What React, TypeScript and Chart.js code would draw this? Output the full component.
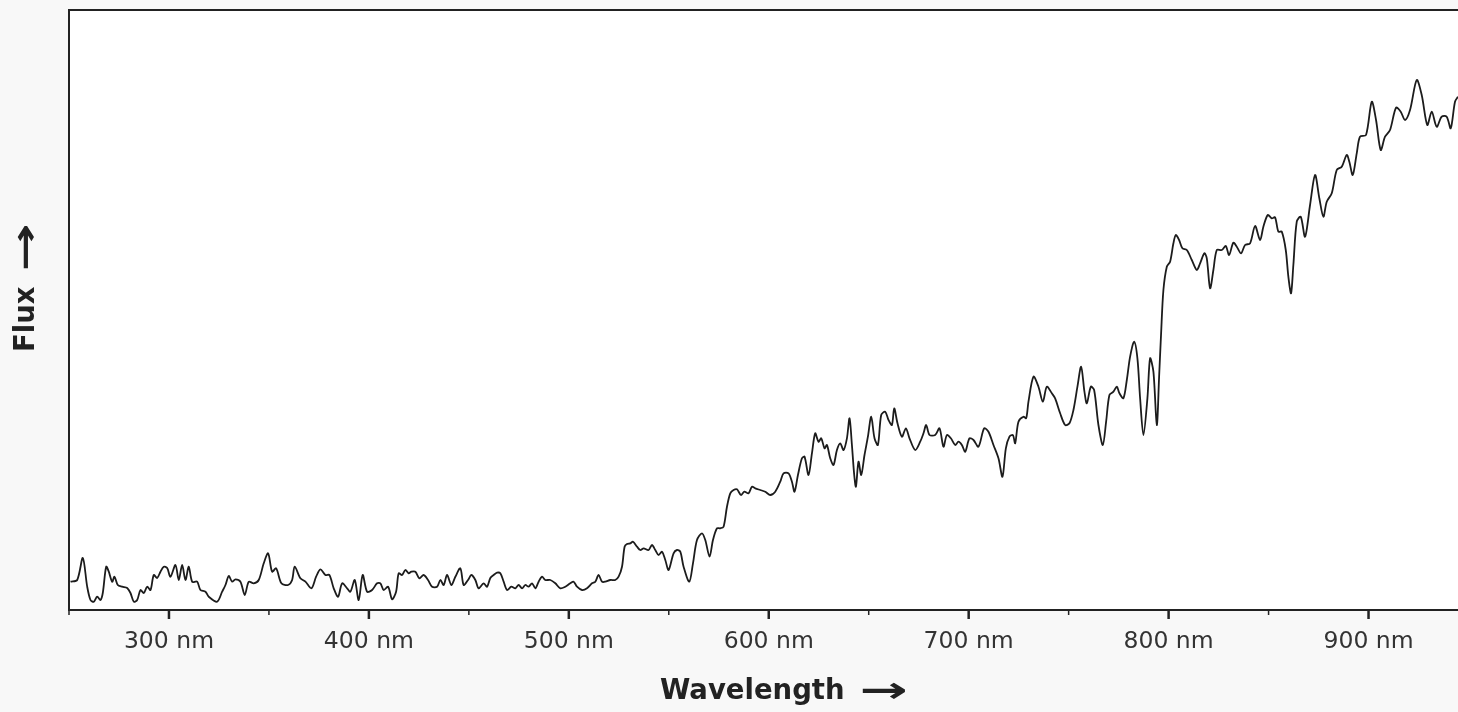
import React, { useEffect, useRef } from "react";
import { Chart, registerables } from "chart.js";

Chart.register(...registerables);

// Wavelength (nm) of each sample along the spectrum
const wavelengthNm: number[] = [
  250.75, 254.1, 256.9, 259.1, 260.75, 262.4, 264.1, 265.75, 266.9, 268.6, 269.9, 271.6, 272.75, 274.4, 276.6, 279.1,
  280.75, 282.4, 284.1, 285.75, 287.4, 289.1, 290.75, 292.4, 294.1, 295.75, 297.4, 299.1, 300.75, 303.25, 304.9, 306.6,
  308.25, 309.9, 311.6, 314.1, 315.75, 318.25, 319.9, 324.1, 326.6, 328.25, 329.9, 331.6, 333.25, 335.75, 337.9, 339.9,
  342.4, 344.9, 347.4, 349.6, 351.6, 353.6, 356.25, 359.6, 361.6, 362.9, 365.75, 368.25, 371.25, 373.6, 375.75, 378.25,
  380.25, 382.4, 384.6, 386.6, 389.1, 390.75, 392.9, 394.9, 396.9, 399.1, 401.6, 404.1, 405.75, 407.4, 409.6, 411.6,
  413.6, 414.9, 416.6, 418.25, 419.9, 421.25, 423.25, 425.25, 427.4, 429.6, 431.6, 434.1, 435.75, 437.4, 439.1, 441.25,
  443.25, 445.75, 447.4, 449.6, 451.25, 453.25, 454.9, 457.4, 459.1, 460.75, 462.4, 464.1, 465.75, 467.4, 469.1, 471.25,
  473.25, 474.9, 476.6, 478.25, 479.9, 481.6, 483.25, 484.9, 486.6, 488.25, 490.75, 493.25, 495.75, 498.25, 500.75, 502.4,
  504.1, 506.6, 509.1, 511.6, 513.25, 514.9, 516.6, 518.25, 520.75, 523.25, 524.9, 526.6, 527.9, 529.1, 530.75, 532.1,
  534.1, 535.75, 537.4, 539.9, 541.6, 543.25, 544.9, 546.6, 548.25, 549.9, 552.4, 554.1, 555.75, 557.4, 560.25, 562.1,
  564.1, 566.6, 568.25, 570.4, 572.1, 574.1, 575.75, 577.4, 579.1, 580.75, 582.4, 584.1, 586.1, 587.75, 589.9, 591.6,
  593.25, 595.75, 598.25, 600.75, 603.25, 605.75, 607.4, 609.9, 611.6, 612.9, 614.6, 616.6, 617.9, 619.9, 621.6, 623.25,
  624.9, 626.25, 627.9, 629.1, 630.75, 632.4, 634.1, 635.75, 637.4, 639.1, 640.4, 641.6, 642.75, 643.6, 644.9, 646.25,
  647.9, 649.6, 651.25, 652.9, 654.6, 656.25, 658.25, 659.9, 661.6, 662.75, 664.4, 666.6, 668.6, 670.4, 673.25, 675.75,
  677.4, 678.75, 680.4, 683.25, 685.4, 687.4, 689.1, 691.1, 693.25, 694.9, 696.6, 698.25, 700.4, 702.4, 704.9, 707.75,
  709.9, 712.4, 714.9, 716.9, 718.6, 720.4, 722.1, 723.25, 724.9, 727.4, 728.75, 729.9, 732.4, 734.9, 737.1, 739.1,
  741.6, 743.25, 745.75, 748.25, 750.4, 752.4, 754.4, 756.25, 757.9, 759.1, 761.1, 762.75, 764.9, 767.1, 768.75, 770.4,
  772.4, 774.1, 775.4, 777.4, 779.1, 780.75, 782.75, 784.4, 785.75, 787.4, 789.4, 790.75, 792.4, 794.1, 795.25, 796.25,
  797.4, 799.1, 800.75, 802.4, 803.6, 805.25, 806.9, 809.1, 811.6, 814.1, 815.75, 817.9, 819.1, 820.75, 822.4, 824.1,
  826.6, 828.6, 830.25, 832.4, 834.1, 836.25, 838.25, 840.75, 843.25, 845.75, 847.4, 849.6, 851.6, 853.25, 854.9, 856.6,
  858.6, 859.9, 861.25, 862.4, 864.1, 866.1, 868.25, 870.75, 873.25, 875.4, 877.4, 879.1, 881.6, 884.1, 886.6, 889.1,
  890.4, 892.1, 894.1, 895.75, 898.75, 901.6, 903.75, 906.1, 908.25, 910.75, 913.75, 916.1, 918.25, 920.75, 924.1, 926.6,
  929.4, 931.6, 934.1, 936.6, 939.1, 941.1, 943.25, 944.75,
];

// Flux (arbitrary units) at each wavelength above
const fluxValues: number[] = [
  28.3, 30, 52, 23.3, 10, 8.3, 13.3, 10, 17, 43.3, 38.3, 28.3, 33.3, 25, 23.3, 22,
  17, 8.3, 10, 20, 17, 23.3, 20, 35, 32, 38.3, 43.3, 42, 33.3, 45, 30, 45,
  30, 43.3, 28.3, 28.3, 20, 18.3, 13.3, 8.3, 18.3, 25, 34, 28.3, 30.7, 28.3, 15, 28.3,
  26.7, 30, 46.7, 56.7, 38.3, 41.7, 26.7, 25, 30, 43.3, 31.7, 28.3, 21.7, 33.3, 40.7, 35,
  35, 21.7, 13.3, 26.7, 21.7, 18.3, 30, 10, 35, 18.3, 20, 26.7, 26.7, 20, 23.3, 10.7,
  18.3, 36.7, 35, 40, 36.7, 38.3, 38.3, 31.7, 35, 30, 23.3, 23.3, 30, 25, 35, 25,
  33.3, 41.7, 25, 30, 35, 30, 21.7, 26.7, 23.3, 32, 35, 37.3, 36.7, 28.3, 20, 23.3,
  21.7, 25, 21.7, 25, 23.3, 26.7, 21.7, 28.3, 33.3, 30, 30, 26.7, 21.7, 23.3, 26.7, 28.3,
  23.3, 20, 21.7, 26.7, 28.3, 35, 28.3, 28.3, 30, 30, 33.3, 43.3, 63.3, 66, 66.7, 68.3,
  63.3, 60, 61.7, 60, 65, 60, 55, 58.3, 50, 40, 56.7, 60, 58.3, 43.3, 28.3, 46.7,
  70, 76.7, 70, 53.3, 70, 81.7, 81.7, 83.3, 103.3, 116.7, 120, 120.7, 115, 118.3, 116.7, 123.3,
  121.7, 120, 118.3, 115, 118.3, 128.3, 136.7, 136.7, 128.3, 118.3, 135, 151.7, 153.3, 135, 156.7, 176.7,
  168.3, 171.7, 161.7, 165, 151.7, 145, 160, 166.7, 160, 171.7, 191.7, 165, 135, 123.3, 148.3, 135,
  155, 173.3, 193.3, 171.7, 165, 195, 198.3, 190, 185, 201.7, 186.7, 173.3, 181.7, 171.7, 160, 168.3,
  176.7, 185, 175, 175, 181.7, 163.3, 175, 171.7, 165, 168.3, 165, 158.3, 171.7, 170, 163.3, 181.7,
  178.3, 165, 151.7, 133.3, 161.7, 173.3, 175, 166.7, 188.3, 193.3, 191.7, 208.3, 233.3, 223.3, 208.3, 223.3,
  216.7, 211.7, 196.7, 185, 186.7, 200, 223.3, 243.3, 218.3, 206.7, 223.3, 220, 185, 165, 188.3, 215,
  218.3, 223.3, 216.7, 211.7, 230, 253.3, 268.3, 251.7, 211.7, 175, 211.7, 251.7, 238.3, 185, 233.3, 276.7,
  320, 343.3, 348.3, 366.7, 375, 370, 361.7, 360, 350, 340, 346.7, 356.7, 351.7, 321.7, 340, 360,
  360, 364, 355, 367.3, 363.3, 356.7, 365, 366.7, 384, 370, 383.3, 395, 391.7, 392.7, 378.3, 378.3,
  360, 333.3, 316.7, 345, 388.3, 393.3, 373.3, 405, 435, 411.7, 393.3, 408.3, 416.7, 440, 443.3, 455,
  448.3, 435, 456.7, 473.3, 475, 508.3, 490, 460, 473.3, 480, 502.3, 498.3, 490, 500, 530, 515,
  485, 498.3, 483.3, 493.3, 493.3, 481.7, 508.3, 513.3,
];

const xRange = { min: 250, max: 944.75 };
const yRange = { min: 0, max: 600 };
const tickStepNm = 50;
const labelStepNm = 100;
const tickUnit = "nm";
const xTitle = "Wavelength";
const yTitle = "Flux";
const arrowGlyph = "→";

const FONT = "'DejaVu Sans', sans-serif";

function drawTitle(ctx: any, text: string) {
  ctx.font = `bold 27.5px ${FONT}`;
  ctx.textAlign = "left";
  ctx.textBaseline = "middle";
  ctx.fillText(text, 0, 0);
  const w = ctx.measureText(text).width;
  ctx.save();
  ctx.translate(w + 15, 1);
  ctx.scale(1.6, 1);
  ctx.font = `bold 36px ${FONT}`;
  ctx.fillText(arrowGlyph, 0, 0);
  ctx.restore();
}

const decorPlugin = {
  id: "decor",
  beforeDraw(chart: any) {
    const { ctx, chartArea: a } = chart;
    ctx.save();
    ctx.fillStyle = "#ffffff";
    ctx.fillRect(a.left, a.top, a.right - a.left, a.bottom - a.top);
    ctx.restore();
  },
  afterDraw(chart: any) {
    const { ctx, chartArea: a } = chart;
    const xs = chart.scales.x;
    ctx.save();
    ctx.strokeStyle = "#222222";
    ctx.lineWidth = 2;
    ctx.beginPath();
    ctx.moveTo(a.right + 4, a.top);
    ctx.lineTo(a.left, a.top);
    ctx.lineTo(a.left, a.bottom);
    ctx.lineTo(a.right + 4, a.bottom);
    ctx.stroke();
    xs.ticks.forEach((t: any) => {
      if (t.value % tickStepNm !== 0) return;
      const px = xs.getPixelForValue(t.value);
      const major = t.value % labelStepNm === 0;
      ctx.lineWidth = major ? 2.5 : 1.5;
      ctx.beginPath();
      ctx.moveTo(px, a.bottom);
      ctx.lineTo(px, a.bottom + (major ? 9 : 5));
      ctx.stroke();
    });
    ctx.fillStyle = "#222222";
    ctx.save();
    ctx.translate(660, 692);
    drawTitle(ctx, xTitle);
    ctx.restore();
    ctx.save();
    ctx.translate(27, 352);
    ctx.rotate(-Math.PI / 2);
    drawTitle(ctx, yTitle);
    ctx.restore();
    ctx.restore();
  },
};

export default function App() {
  const ref = useRef<HTMLCanvasElement | null>(null);

  useEffect(() => {
    const canvas = ref.current;
    if (!canvas) return;
    const points = wavelengthNm.map((x, i) => ({ x, y: fluxValues[i] }));
    const chart = new Chart(canvas, {
      type: "line",
      data: {
        datasets: [
          {
            data: points,
            borderColor: "#1c1c1c",
            borderWidth: 1.8,
            pointRadius: 0,
            tension: 0.3,
            fill: false,
          },
        ],
      },
      options: {
        animation: false,
        responsive: false,
        maintainAspectRatio: false,
        events: [],
        layout: { padding: { top: 10, left: 0, right: 0, bottom: 0 } },
        plugins: { legend: { display: false }, tooltip: { enabled: false }, title: { display: false } },
        scales: {
          x: {
            type: "linear",
            min: xRange.min,
            max: xRange.max,
            grid: { display: false, drawTicks: false },
            border: { display: false },
            afterFit: (s: any) => {
              s.height = 102;
            },
            ticks: {
              stepSize: tickStepNm,
              includeBounds: false,
              autoSkip: false,
              maxRotation: 0,
              padding: 18,
              color: "#333333",
              font: { family: FONT, size: 23.5 },
              callback: (v: any) => (Number(v) % labelStepNm === 0 ? `${v} ${tickUnit}` : ""),
            },
          },
          y: {
            type: "linear",
            min: yRange.min,
            max: yRange.max,
            grid: { display: false, drawTicks: false },
            border: { display: false },
            ticks: { display: false },
            afterFit: (s: any) => {
              s.width = 69;
            },
          },
        },
      },
      plugins: [decorPlugin],
    });
    return () => chart.destroy();
  }, []);

  return (
    <div
      style={{
        position: "fixed",
        left: 0,
        top: 0,
        width: 1458,
        height: 712,
        overflow: "hidden",
        background: "#f8f8f8",
      }}
    >
      <canvas ref={ref} width={1458} height={712} style={{ display: "block", width: 1458, height: 712 }} />
    </div>
  );
}
